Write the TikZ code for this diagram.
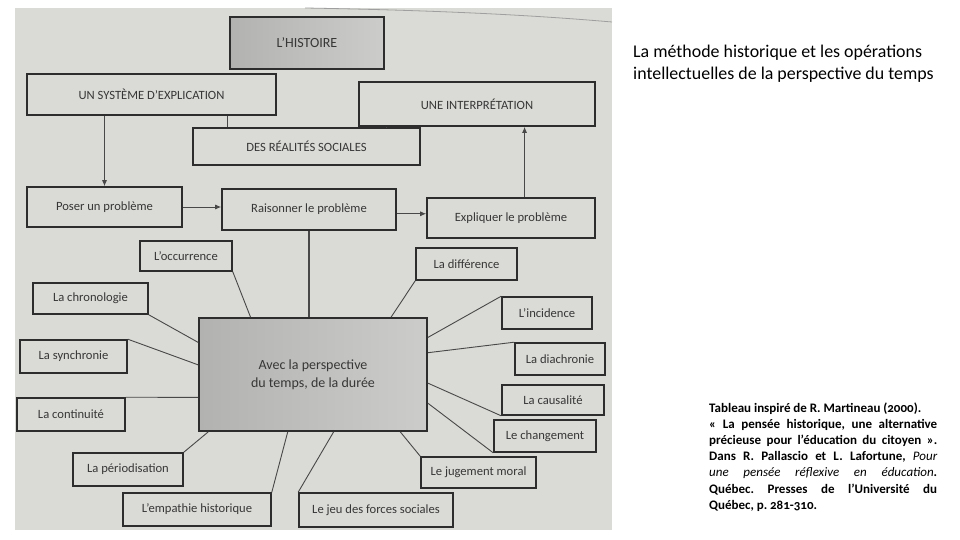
\documentclass[tikz,border=0pt]{standalone}
\usepackage{fontspec}
\setmainfont{Carlito}
\usetikzlibrary{arrows.meta,calc}
\definecolor{paper}{RGB}{218,218,214}
\definecolor{graydark}{RGB}{178,178,176}
\definecolor{graylight}{RGB}{204,204,202}
\definecolor{ink}{RGB}{45,45,45}
\definecolor{lineink}{RGB}{72,72,72}
\definecolor{txt}{RGB}{55,55,55}
\begin{document}
\begin{tikzpicture}[x=1pt,y=-1pt,
  box/.style={draw=ink,line width=1.6pt,fill=paper,inner sep=0pt,
    font=\fontsize{12.6}{14}\selectfont,text=txt,align=center},
  gbox/.style={box,left color=graydark,right color=graylight},
  link/.style={draw=lineink,line width=0.9pt},
  arr/.style={link,-{Latex[length=6pt,width=5pt]}}]
\useasboundingbox (0,0) rectangle (960,540);
\fill[white] (0,0) rectangle (960,540);
\fill[paper] (15,8) rectangle (612,530);
\draw[gray!75,line width=0.8pt] (305,8) .. controls (420,10) and (520,14) .. (612,22);

% top part
\node[gbox,minimum width=154pt,minimum height=52pt,font=\fontsize{14}{16}\selectfont] (hist) at (307,43) {L'HISTOIRE};
\node[box,minimum width=249pt,minimum height=41pt] (sys) at (151.5,94.5) {UN SYSTÈME D'EXPLICATION};
\node[box,minimum width=236pt,minimum height=44pt] (interp) at (477,104) {UNE INTERPRÉTATION};
\node[box,minimum width=227pt,minimum height=37pt] (real) at (306.5,146.5) {DES RÉALITÉS SOCIALES};

\node[box,minimum width=155pt,minimum height=40pt] (poser) at (104.5,207) {Poser un problème};
\node[box,minimum width=174pt,minimum height=41pt] (rais) at (309,209.5) {Raisonner le problème};
\node[box,minimum width=168pt,minimum height=40pt] (expl) at (511,218) {Expliquer le problème};

% centre
\node[gbox,minimum width=228pt,minimum height=113pt,font=\fontsize{14}{18}\selectfont] (center) at (313,374.5) {Avec la perspective\\du temps, de la durée};

% satellites
\node[box,minimum width=92pt,minimum height=30pt] (occ) at (186,256) {L'occurrence};
\node[box,minimum width=115pt,minimum height=31pt] (chrono) at (90.5,298.5) {La chronologie};
\node[box,minimum width=107pt,minimum height=33pt] (sync) at (73.5,356.5) {La synchronie};
\node[box,minimum width=108pt,minimum height=33pt] (cont) at (71,414.5) {La continuité};
\node[box,minimum width=110pt,minimum height=33pt] (perio) at (128,469.5) {La périodisation};
\node[box,minimum width=148pt,minimum height=33pt] (emp) at (197,509.5) {L'empathie historique};
\node[box,minimum width=154pt,minimum height=34pt] (jeu) at (376,510) {Le jeu des forces sociales};
\node[box,minimum width=115pt,minimum height=31pt] (jug) at (478.5,472.5) {Le jugement moral};
\node[box,minimum width=102pt,minimum height=32pt] (chang) at (545,436) {Le changement};
\node[box,minimum width=102pt,minimum height=30pt] (caus) at (553,400) {La causalité};
\node[box,minimum width=90pt,minimum height=32pt] (diach) at (560,359) {La diachronie};
\node[box,minimum width=90pt,minimum height=32pt] (incid) at (547,313) {L'incidence};
\node[box,minimum width=101pt,minimum height=32pt] (diff) at (466.5,264) {La différence};

% top connectors
\coordinate (realA) at ($(real.north west)!0.155!(real.north east)$);
\coordinate (realB) at ($(real.north west)!0.85!(real.north east)$);
\draw[link] (realA |- sys.south) -- (realA);
\draw[link] (realB |- interp.south) -- (realB);
\draw[arr] (poser.north |- sys.south) -- (poser.north);
\coordinate (explTop) at ($(expl.north west)!0.58!(expl.north east)$);
\draw[arr] (explTop) -- (explTop |- interp.south);
\draw[arr] (poser.east) -- (poser.east -| rais.west);
\coordinate (raisR) at ($(rais.north east)!0.6!(rais.south east)$);
\draw[arr] (raisR) -- (raisR -| expl.west);
\draw[link,line width=1.8pt] (rais.south) -- (rais.south |- center.north);

% satellite connectors
\draw[link] (occ.south east) -- ($(center.north west)!0.228!(center.north east)$);
\draw[link] (chrono.south east) -- ($(center.north west)!0.22!(center.south west)$);
\draw[link] (sync.north east) -- ($(center.north west)!0.416!(center.south west)$);
\draw[link] (cont.north east) -- ($(center.north west)!0.70!(center.south west)$);
\draw[link] (perio.north east) -- ($(center.south west)!0.044!(center.south east)$);
\draw[link] (emp.north east) -- ($(center.south west)!0.39!(center.south east)$);
\draw[link] (jeu.north west) -- ($(center.south west)!0.59!(center.south east)$);
\draw[link] (jug.north west) -- ($(center.south west)!0.88!(center.south east)$);
\draw[link] (chang.south west) -- ($(center.north east)!0.75!(center.south east)$);
\draw[link] (caus.south west) -- ($(center.north east)!0.575!(center.south east)$);
\draw[link] (diach.north west) -- ($(center.north east)!0.31!(center.south east)$);
\draw[link] (incid.north west) -- ($(center.north east)!0.177!(center.south east)$);
\draw[link] (diff.south west) -- ($(center.north west)!0.84!(center.north east)$);

% right-hand texts
\node[anchor=base west,inner sep=0pt,text=black] (title) at (633,58)
  {\parbox[t]{330pt}{\raggedright\fontsize{17.9}{22}\selectfont
   La méthode historique et les opérations\\
   intellectuelles de la perspective du temps}};
\node[anchor=base west,inner sep=0pt,text=black] (cite) at (709,412)
  {\parbox[t]{228pt}{\fontsize{13}{16.2}\selectfont\bfseries\addfontfeatures{Numbers=OldStyle}%
   \frenchspacing\hyphenpenalty=10000 \parindent=0pt
   \spaceskip=0.22em plus 0.6em minus 0.12em
   Tableau inspiré de R. Martineau (2000).\newline
   «~La pensée historique, une alternative\linebreak
   précieuse pour l'éducation du citoyen~».\linebreak
   Dans R. Pallascio et L. Lafortune, {\mdseries\itshape Pour}\linebreak
   {\mdseries\itshape une pensée réflexive en éducation}.\linebreak
   Québec. Presses de l'Université du\linebreak
   Québec, p. 281-310.}};
\end{tikzpicture}
\end{document}
